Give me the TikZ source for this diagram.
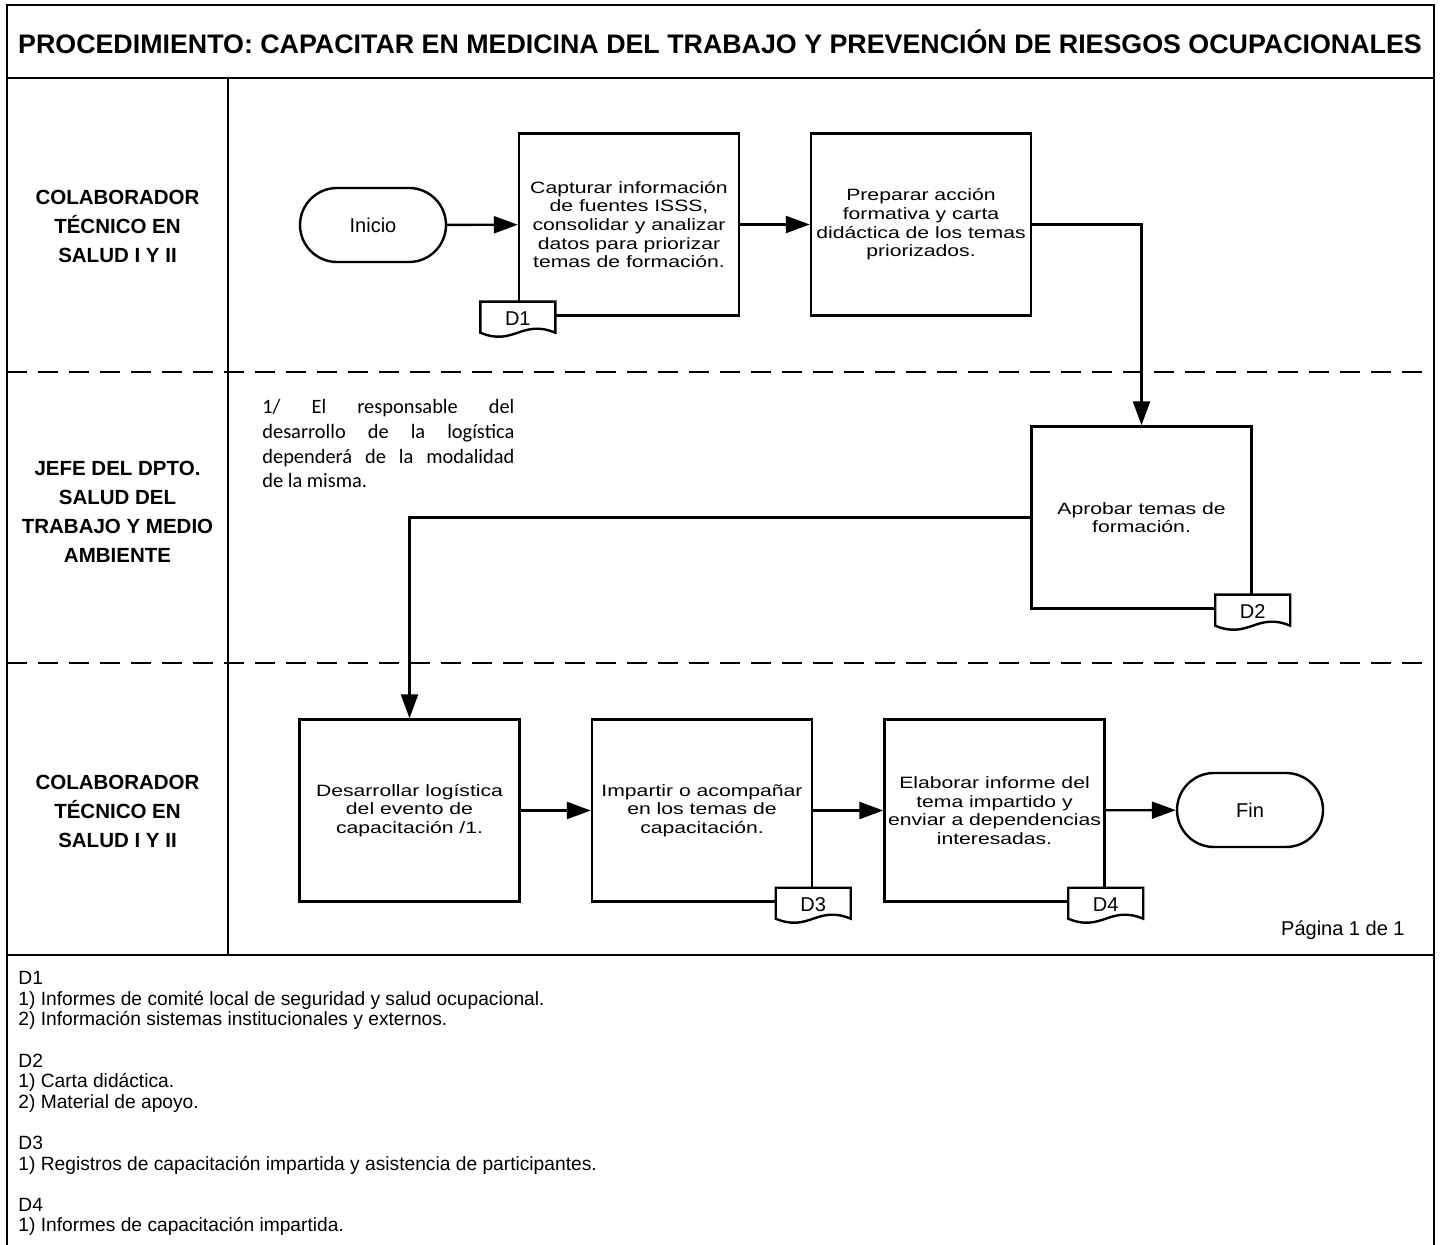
\documentclass[tikz,border=0pt]{standalone}
\usepackage{fontspec}
\setmainfont{Liberation Sans}
\newfontfamily\widefont[FakeStretch=1.29]{Liberation Sans}
\newfontfamily\calibrifont{Carlito}
\usetikzlibrary{arrows.meta,shapes.misc,calc}
\tikzset{
  frameline/.style={line width=1.3pt},
  laneline/.style={line width=1.2pt, dash pattern=on 10pt off 5.5pt},
  conn/.style={line width=1.2pt, -{Triangle[length=12pt,width=8.5pt]}},
  procbox/.style={draw, line width=1.2pt, fill=white, minimum width=110pt, minimum height=91pt, inner sep=0pt, align=center, font=\widefont\fontsize{8.2}{9.35}\selectfont},
  termbox/.style={draw, line width=1.2pt, rounded rectangle, minimum width=73pt, minimum height=37pt, inner sep=0pt, font=\fontsize{10}{12}\selectfont},
  lanelabel/.style={align=center, font=\bfseries\fontsize{10.25}{14.5}\selectfont},
  docline/.style={line width=1.2pt},
  doclabel/.style={font=\fontsize{10}{12}\selectfont, inner sep=0pt},
  notetext/.style={anchor=north west, inner sep=0pt, text width=126pt, align=justify, font=\calibrifont\fontsize{10.2}{12.4}\selectfont}
}
\newcommand{\docshape}[3]{%
  \draw[docline, fill=white] ($(#2)+(-37.5,-15)$) -- ($(#2)+(37.5,-15)$) -- ($(#2)+(37.5,16)$) .. controls ($(#2)+(4,2)$) and ($(#2)+(-4,30)$) .. ($(#2)+(-37.5,16)$) -- cycle;
  \node[doclabel] (#1) at ($(#2)+(0,1.5)$) {#3};}
\begin{document}
\begin{tikzpicture}[x=0.5pt,y=-0.5pt]
\useasboundingbox (0,0) rectangle (1440,1245);
\fill[white] (0,0) rectangle (1440,1245);
% frame
\draw[frameline] (7,1245) -- (7,5) -- (1434,5) -- (1434,1245);
\draw[frameline] (7,78) -- (1434,78);
\draw[frameline] (7,955) -- (1434,955);
\draw[frameline] (228,78) -- (228,955);
\draw[laneline] (7,372) -- (1434,372);
\draw[laneline] (7,663) -- (1434,663);
% title
\node[font=\bfseries\fontsize{13.4}{16}\selectfont] (title) at (720,42) {PROCEDIMIENTO: CAPACITAR EN MEDICINA DEL TRABAJO Y PREVENCIÓN DE RIESGOS OCUPACIONALES};
% lane labels
\node[lanelabel] (lane1) at (117.5,226) {COLABORADOR\\TÉCNICO EN\\SALUD I Y II};
\node[lanelabel] (lane2) at (117.5,512) {JEFE DEL DPTO.\\SALUD DEL\\TRABAJO Y MEDIO\\AMBIENTE};
\node[lanelabel] (lane3) at (117.5,811) {COLABORADOR\\TÉCNICO EN\\SALUD I Y II};
% nodes
\node[termbox] (inicio) at (373,225) {Inicio};
\node[procbox] (b1) at (629,224.5) {Capturar información\\de fuentes ISSS,\\consolidar y analizar\\datos para priorizar\\temas de formación.};
\node[procbox] (b2) at (921,224.5) {Preparar acción\\formativa y carta\\didáctica de los temas\\priorizados.};
\node[procbox] (b3) at (1141.5,517.5) {Aprobar temas de\\formación.};
\node[procbox] (b4) at (409.5,810.5) {Desarrollar logística\\del evento de\\capacitación /1.};
\node[procbox] (b5) at (702,810.5) {Impartir o acompañar\\en los temas de\\capacitación.};
\node[procbox] (b6) at (994.5,810.5) {Elaborar informe del\\tema impartido y\\enviar a dependencias\\interesadas.};
\node[termbox] (fin) at (1250,810) {Fin};
% documents
\docshape{d1}{b1.south west}{D1}
\docshape{d2}{b3.south east}{D2}
\docshape{d3}{b5.south east}{D3}
\docshape{d4}{b6.south east}{D4}
% connectors
\draw[conn] (inicio) -- (b1);
\draw[conn] (b1) -- (b2);
\draw[conn] (b2.east) -| (b3.north);
\draw[conn] (b3.west) -| (b4.north);
\draw[conn] (b4) -- (b5);
\draw[conn] (b5) -- (b6);
\draw[conn] (b6) -- (fin);
% note
\node[notetext] (note) at (262,399) {\hyphenpenalty=10000\relax 1/ El responsable del\linebreak desarrollo de la logística\linebreak dependerá de la modalidad\linebreak de la misma.};
% page
\node[anchor=east, inner sep=0pt, font=\fontsize{10}{12}\selectfont] (page) at (1405,930) {Página 1 de 1};
% legend
\node[anchor=north west, inner sep=0pt, align=left, font=\fontsize{9.6}{10.3}\selectfont] (legend) at (18,971) {D1\\1) Informes de comité local de seguridad y salud ocupacional.\\2) Información sistemas institucionales y externos.\\[10.3pt]D2\\1) Carta didáctica.\\2) Material de apoyo.\\[10.3pt]D3\\1) Registros de capacitación impartida y asistencia de participantes.\\[10.3pt]D4\\1) Informes de capacitación impartida.};
\end{tikzpicture}
\end{document}
